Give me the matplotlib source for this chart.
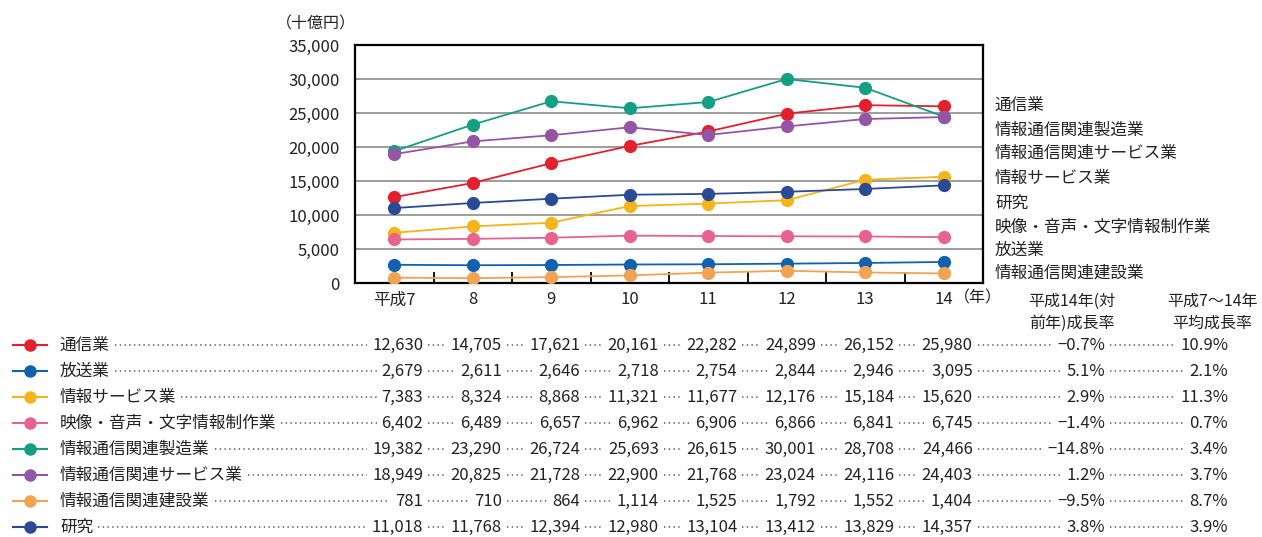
import matplotlib
matplotlib.use('Agg')
import matplotlib.pyplot as plt
from matplotlib.lines import Line2D
from matplotlib.transforms import blended_transform_factory, offset_copy

plt.rcParams['font.family'] = ['Noto Sans CJK JP', 'DejaVu Sans']

# Years (Heisei) and output per sector, in billions of yen
years = ['平成7', '8', '9', '10', '11', '12', '13', '14']
sectors = ['通信業', '放送業', '情報サービス業', '映像・音声・文字情報制作業',
           '情報通信関連製造業', '情報通信関連サービス業', '情報通信関連建設業', '研究']
tsushin = [12630, 14705, 17621, 20161, 22282, 24899, 26152, 25980]
hoso = [2679, 2611, 2646, 2718, 2754, 2844, 2946, 3095]
joho_service = [7383, 8324, 8868, 11321, 11677, 12176, 15184, 15620]
eizo = [6402, 6489, 6657, 6962, 6906, 6866, 6841, 6745]
seizo = [19382, 23290, 26724, 25693, 26615, 30001, 28708, 24466]
kanren_service = [18949, 20825, 21728, 22900, 21768, 23024, 24116, 24403]
kensetsu = [781, 710, 864, 1114, 1525, 1792, 1552, 1404]
kenkyu = [11018, 11768, 12394, 12980, 13104, 13412, 13829, 14357]
# growth rates: H14 over H13, and average H7-H14
growth_yoy = ['−0.7%', '5.1%', '2.9%', '−1.4%', '−14.8%', '1.2%', '−9.5%', '3.8%']
growth_avg = ['10.9%', '2.1%', '11.3%', '0.7%', '3.4%', '3.7%', '8.7%', '3.9%']
# order of the names listed beside the plot
side_order = ['通信業', '情報通信関連製造業', '情報通信関連サービス業', '情報サービス業',
              '研究', '映像・音声・文字情報制作業', '放送業', '情報通信関連建設業']

series = [tsushin, hoso, joho_service, eizo, seizo, kanren_service, kensetsu, kenkyu]
colors = ['#e3202b', '#1062b0', '#f4b41a', '#e8628f', '#159f82', '#9555a5', '#f0a352', '#2b4a95']

W, H = 1262, 537
def fx(px):
    return px / W
def fy(py):
    return 1 - py / H

txt = '#222222'
fig = plt.figure(figsize=(W / 100, H / 100), dpi=100)
ax = fig.add_axes([fx(355), fy(283), fx(983) - fx(355), fy(45) - fy(283)])

x = list(range(len(years)))
for vals, c in zip(series, colors):
    ax.plot(x, vals, color=c, lw=1.3, marker='o', markersize=8.5, zorder=3)

ax.set_xlim(-0.5, len(years) - 0.5)
ax.set_ylim(0, 35000)
ax.set_yticks(range(0, 35001, 5000))
ax.set_yticklabels([f'{v:,}' for v in range(0, 35001, 5000)])
ax.yaxis.grid(True, color='#8c8c8c', lw=1.2)
ax.set_axisbelow(True)
ax.tick_params(axis='y', length=0, pad=11, labelsize=12, labelcolor=txt)
ax.set_xticks(x)
ax.set_xticklabels(years)
ax.set_xticks([i + 0.5 for i in x[:-1]], minor=True)
ax.tick_params(axis='x', which='major', length=0, pad=6, labelsize=12, labelcolor=txt)
ax.tick_params(axis='x', which='minor', direction='in', length=8, width=1.3, color='black')
for s in ax.spines.values():
    s.set_linewidth(1.6)
    s.set_color('black')

fig.text(fx(316), fy(24), '（十億円）', ha='center', va='center', fontsize=11.5, color=txt)
fig.text(fx(978), fy(298), '（年）', ha='center', va='center', fontsize=11.5, color=txt)

# names beside the plot
side_y = [105, 130, 153, 178, 203, 227, 250, 273]
for name, y in zip(side_order, side_y):
    fig.text(fx(995), fy(y), name, ha='left', va='center', fontsize=12, color=txt)

# table headers
fig.text(fx(1072), fy(301), '平成14年(対', ha='center', va='center', fontsize=11.5, color=txt)
fig.text(fx(1072), fy(323), '前年)成長率', ha='center', va='center', fontsize=11.5, color=txt)
fig.text(fx(1212), fy(301), '平成7～14年', ha='center', va='center', fontsize=11.5, color=txt)
fig.text(fx(1212), fy(323), '平均成長率', ha='center', va='center', fontsize=11.5, color=txt)

# table rows: legend key, name, yearly values and growth rates
col_trans = offset_copy(blended_transform_factory(ax.transData, fig.transFigure),
                        fig=fig, x=29, y=0, units='dots')
rows = []
for r, (name, vals, c) in enumerate(zip(sectors, series, colors)):
    y = fy(345 + 26 * r)
    fig.add_artist(Line2D([fx(13), fx(47)], [y, y], color=c, lw=1.5))
    fig.add_artist(Line2D([fx(30)], [y], color=c, marker='o', markersize=8))
    items = [fig.text(fx(60), y, name, ha='left', va='center', fontsize=12, color=txt)]
    for i, v in enumerate(vals):
        items.append(fig.text(i, y, f'{v:,}', ha='right', va='center', fontsize=12,
                              color=txt, transform=col_trans))
    items.append(fig.text(fx(1105), y, growth_yoy[r], ha='right', va='center',
                          fontsize=12, color=txt))
    items.append(fig.text(fx(1228), y, growth_avg[r], ha='right', va='center',
                          fontsize=12, color=txt))
    rows.append((y, items))

# dotted leaders between neighbouring cells
fig.canvas.draw()
rend = fig.canvas.get_renderer()
for y, items in rows:
    for a, b in zip(items[:-1], items[1:]):
        x0 = a.get_window_extent(rend).x1 + 5
        x1 = b.get_window_extent(rend).x0 - 5
        if x1 > x0:
            fig.add_artist(Line2D([fx(x0), fx(x1)], [y, y], color='#555555', lw=1.1,
                                  linestyle=(0, (0.9, 2.2))))

fig.savefig('out.png', dpi=100, facecolor='white')
